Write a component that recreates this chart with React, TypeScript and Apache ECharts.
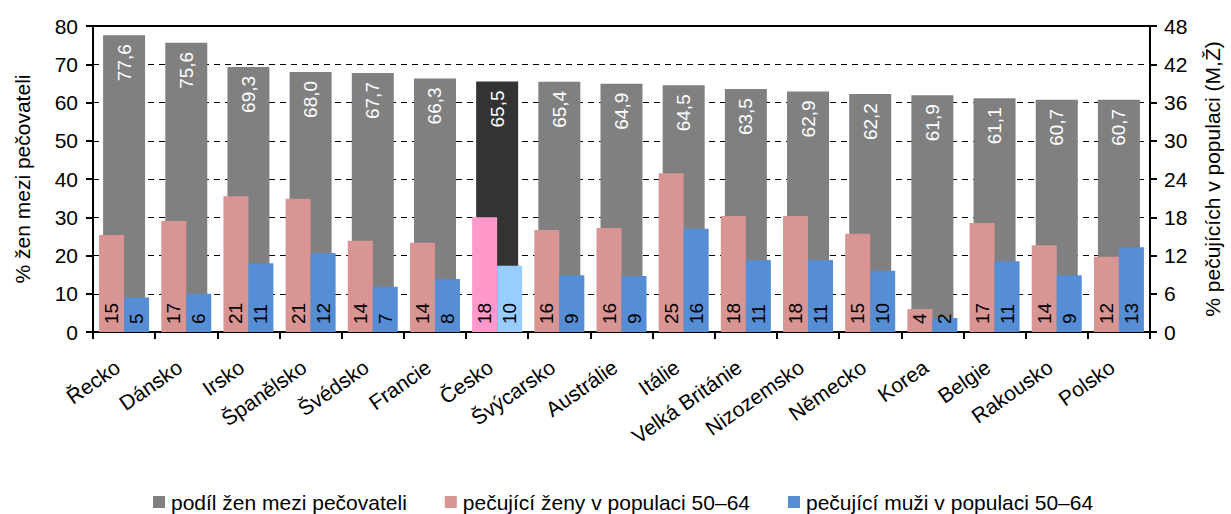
import React, { useEffect, useRef } from "react";
import * as echarts from "echarts";

const categories = ["Řecko", "Dánsko", "Irsko", "Španělsko", "Švédsko", "Francie", "Česko", "Švýcarsko", "Austrálie", "Itálie", "Velká Británie", "Nizozemsko", "Německo", "Korea", "Belgie", "Rakousko", "Polsko"];
const shareWomen = [77.6, 75.6, 69.3, 68.0, 67.7, 66.3, 65.5, 65.4, 64.9, 64.5, 63.5, 62.9, 62.2, 61.9, 61.1, 60.7, 60.7];
const womenCarers = [15.2, 17.4, 21.3, 20.9, 14.3, 14.0, 18.0, 16.0, 16.3, 24.9, 18.2, 18.2, 15.4, 3.6, 17.1, 13.6, 11.8];
const menCarers = [5.4, 6.0, 10.8, 12.4, 7.1, 8.3, 10.4, 8.9, 8.8, 16.2, 11.3, 11.3, 9.6, 2.2, 11.1, 8.9, 13.3];
const leftTicks = { min: 0, max: 80, interval: 10 };
const rightTicks = { min: 0, max: 48, interval: 6 };
const highlight = "Česko";
const seriesNames = ["podíl žen mezi pečovateli", "pečující ženy v populaci 50–64", "pečující muži v populaci 50–64"];

const FONT = "'Liberation Sans', Arial, sans-serif";

export default function App() {
  const ref = useRef<HTMLDivElement>(null);
  useEffect(() => {
    if (!ref.current) return;
    const chart = echarts.init(ref.current, null, { renderer: "svg" });
    const grey = "#808080";
    const pink = "#D99594";
    const blue = "#558ED5";
    const greyData = shareWomen.map((v, i) =>
      categories[i] === highlight ? { value: v, itemStyle: { color: "#333333" } } : v
    );
    const pinkData = womenCarers.map((v, i) =>
      categories[i] === highlight ? { value: v, itemStyle: { color: "#FF99CC" } } : v
    );
    const blueData = menCarers.map((v, i) =>
      categories[i] === highlight ? { value: v, itemStyle: { color: "#99CCFF" } } : v
    );
    const smallLabel = {
      show: true,
      position: "insideBottom",
      rotate: 90,
      align: "left",
      verticalAlign: "middle",
      distance: 8,
      color: "#000",
      fontSize: 19,
      fontFamily: FONT,
      formatter: (p: any) => String(Math.round(p.value)),
    };
    chart.setOption({
      animation: false,
      textStyle: { fontFamily: FONT },
      grid: {
        left: 93,
        right: 77,
        top: 26,
        bottom: 182,
        show: true,
        borderColor: "#000",
        borderWidth: 2,
        backgroundColor: "transparent",
      },
      legend: {
        left: 153,
        top: 491,
        padding: 0,
        itemWidth: 12,
        itemHeight: 12,
        itemGap: 38,
        icon: "rect",
        textStyle: { color: "#000", fontSize: 21, lineHeight: 22, fontFamily: FONT, padding: [0, 0, 0, 1] },
        data: seriesNames,
      },
      xAxis: [
        {
          type: "category",
          data: categories,
          axisLine: { lineStyle: { color: "#000", width: 2 } },
          axisTick: { show: true, length: 7, lineStyle: { color: "#000", width: 2 } },
          axisLabel: {
            interval: 0,
            rotate: 35,
            margin: 28,
            color: "#000",
            fontSize: 21,
            fontFamily: FONT,
            padding: [0, 8, 0, 0],
          },
        },
        {
          type: "category",
          data: categories,
          show: false,
        },
      ],
      yAxis: [
        {
          type: "value",
          ...leftTicks,
          name: "% žen mezi pečovateli",
          nameLocation: "middle",
          nameRotate: 90,
          nameGap: 60,
          nameTextStyle: { color: "#000", fontSize: 21, fontFamily: FONT },
          axisLine: { show: true, lineStyle: { color: "#000", width: 2 } },
          axisTick: { show: true, length: 7, lineStyle: { color: "#000", width: 2 } },
          axisLabel: { color: "#000", fontSize: 21, fontFamily: FONT, margin: 15 },
          splitLine: { show: true, lineStyle: { color: "#000", width: 1, type: [6, 5] } },
        },
        {
          type: "value",
          ...rightTicks,
          position: "right",
          name: "% pečujících v populaci (M,Ž)",
          nameLocation: "middle",
          nameRotate: 90,
          nameGap: 52,
          nameTextStyle: { color: "#000", fontSize: 21, fontFamily: FONT },
          axisLine: { show: true, lineStyle: { color: "#000", width: 2 } },
          axisTick: { show: true, length: 7, lineStyle: { color: "#000", width: 2 } },
          axisLabel: { color: "#000", fontSize: 21, fontFamily: FONT, margin: 14 },
          splitLine: { show: false },
        },
      ],
      series: [
        {
          name: seriesNames[0],
          type: "bar",
          xAxisIndex: 0,
          yAxisIndex: 0,
          barWidth: 42,
          itemStyle: { color: grey },
          data: greyData,
          label: {
            show: true,
            position: "insideTop",
            rotate: 90,
            align: "right",
            verticalAlign: "middle",
            distance: 9,
            color: "#fff",
            fontSize: 19,
            fontFamily: FONT,
            formatter: (p: any) => Number(p.value).toFixed(1).replace(".", ","),
          },
        },
        {
          name: seriesNames[1],
          type: "bar",
          xAxisIndex: 1,
          yAxisIndex: 1,
          barWidth: 25,
          barGap: "0%",
          itemStyle: { color: pink },
          data: pinkData,
          label: smallLabel,
        },
        {
          name: seriesNames[2],
          type: "bar",
          xAxisIndex: 1,
          yAxisIndex: 1,
          barWidth: 25,
          barGap: "0%",
          itemStyle: { color: blue },
          data: blueData,
          label: smallLabel,
        },
      ],
    });
    return () => chart.dispose();
  }, []);
  return (
    <div
      ref={ref}
      style={{ position: "fixed", left: 0, top: 0, width: 1231, height: 514, background: "#fff" }}
    />
  );
}
